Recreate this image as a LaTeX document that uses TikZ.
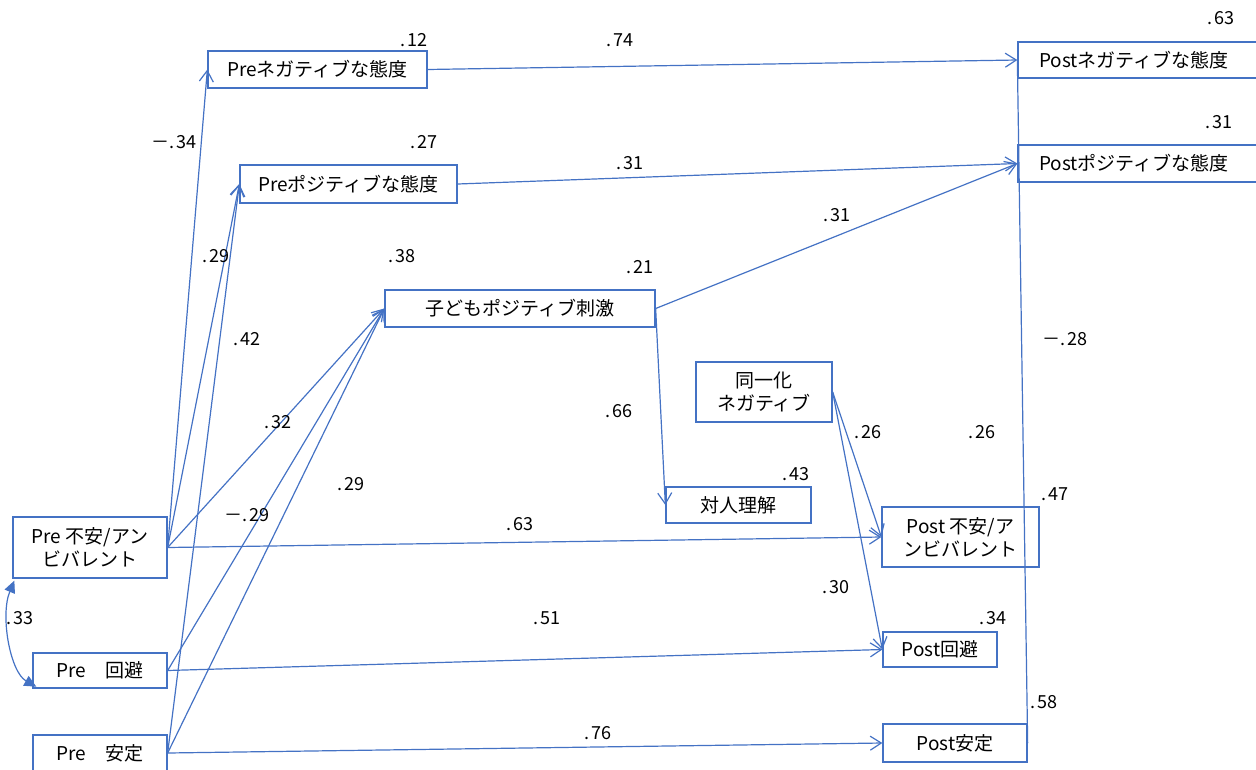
\documentclass[tikz,border=0pt]{standalone}
\usepackage{fontspec}
\setmainfont{Noto Sans CJK JP}
\usetikzlibrary{arrows.meta}
\definecolor{lb}{RGB}{68,114,196}
\newcommand{\dt}{.\kern2.5pt}
\begin{document}
\begin{tikzpicture}[x=1pt,y=-1pt,
  box/.style={draw=lb, line width=1.3pt, inner sep=0pt, align=center, font=\fontsize{19}{23}\selectfont},
  lab/.style={inner sep=0pt, font=\fontsize{18}{21}\selectfont},
  arr/.style={draw=lb, line width=1.2pt, -{Straight Barb[length=11pt,width=14pt]}},
  cov/.style={draw=lb, line width=1.2pt}]
\useasboundingbox (0,0) rectangle (1256,769);
\clip (0,0) rectangle (1256,769);
% boxes
\node[box, minimum width=219, minimum height=37] (preneg) at (317.5,69.5) {Preネガティブな態度};
\node[box, minimum width=217, minimum height=38] (prepos) at (348.5,184) {Preポジティブな態度};
\node[box, minimum width=270, minimum height=37] (child) at (520,308.5) {子どもポジティブ刺激};
\node[box, minimum width=136, minimum height=60] (doitsu) at (764,392) {同一化\\ネガティブ};
\node[box, minimum width=145, minimum height=36] (taijin) at (738.5,505) {対人理解};
\node[box, minimum width=239, minimum height=36] (postneg) at (1137.5,60) {\hspace*{-7pt}Postネガティブな態度};
\node[box, minimum width=239, minimum height=37] (postpos) at (1137.5,163.5) {\hspace*{-7pt}Postポジティブな態度};
\node[box, minimum width=157, minimum height=60] (postanx) at (960.5,537) {Post 不安/ア\\ンビバレント};
\node[box, minimum width=114, minimum height=35] (postavo) at (940,649.5) {Post回避};
\node[box, minimum width=144, minimum height=38] (postsec) at (955,743) {Post安定};
\node[box, minimum width=154, minimum height=61] (preanx) at (90,547.5) {Pre 不安/アン\\ビバレント};
\node[box, minimum width=134, minimum height=35] (preavo) at (100,670.5) {Pre　回避};
\node[box, minimum width=134, minimum height=36] (presec) at (100,753) {Pre　安定};
% paths
\draw[arr] (preanx.east) -- (preneg.west);
\draw[arr] (preanx.east) -- (prepos.west);
\draw[arr] (presec.east) -- (prepos.west);
\draw[arr] (preanx.east) -- (child.west);
\draw[arr] (preavo.east) -- (child.west);
\draw[arr] (presec.east) -- (child.west);
\draw[arr] (preanx.east) -- (postanx.west);
\draw[arr] (preavo.east) -- (postavo.west);
\draw[arr] (presec.east) -- (postsec.west);
\draw[arr] (preneg.east) -- (postneg.west);
\draw[arr] (prepos.east) -- (postpos.west);
\draw[arr] (child.east) -- (postpos.west);
\draw[arr] (child.east) -- (taijin.west);
\draw[arr] (doitsu.east) -- (postanx.west);
\draw[arr] (doitsu.east) -- (postavo.west);
\draw[cov] (postneg.west) -- (postsec.east);
% covariance arc
\coordinate (ca) at ([xshift=2pt,yshift=-2pt]preanx.south west);
\coordinate (cb) at ([xshift=4pt,yshift=2pt]preavo.south west);
\draw[cov, {Triangle[length=12pt,width=11pt]}-{Triangle[length=12pt,width=11pt]}] (ca) .. controls (0,615) and (10,672) .. (cb);
% labels
\node[lab] (l1) at (414,40) {\dt12};
\node[lab] (l2) at (424,142) {\dt27};
\node[lab] (l3) at (174,142) {－\dt34};
\node[lab] (l4) at (620,40) {\dt74};
\node[lab] (l5) at (630,163) {\dt31};
\node[lab] (l6) at (1221,18) {\dt63};
\node[lab] (l7) at (1219,122) {\dt31};
\node[lab] (l8) at (216,256) {\dt29};
\node[lab] (l9) at (402,256) {\dt38};
\node[lab] (l10) at (640,267) {\dt21};
\node[lab] (l11) at (247,339) {\dt42};
\node[lab] (l12) at (278,422) {\dt32};
\node[lab] (l13) at (351,484) {\dt29};
\node[lab] (l14) at (619,411) {\dt66};
\node[lab] (l15) at (837,215) {\dt31};
\node[lab] (l16) at (247,515) {－\dt29};
\node[lab] (l17) at (520,524) {\dt63};
\node[lab] (l18) at (547,618) {\dt51};
\node[lab] (l19) at (598,733) {\dt76};
\node[lab] (l20) at (868,432) {\dt26};
\node[lab] (l21) at (982,432) {\dt26};
\node[lab] (l22) at (796,474) {\dt43};
\node[lab] (l23) at (1055,494) {\dt47};
\node[lab] (l24) at (993,618) {\dt34};
\node[lab] (l25) at (1044,702) {\dt58};
\node[lab] (l26) at (1065,339) {－\dt28};
\node[lab] (l27) at (836,587) {\dt30};
\node[lab] (l28) at (20,618) {\dt33};
\end{tikzpicture}
\end{document}
